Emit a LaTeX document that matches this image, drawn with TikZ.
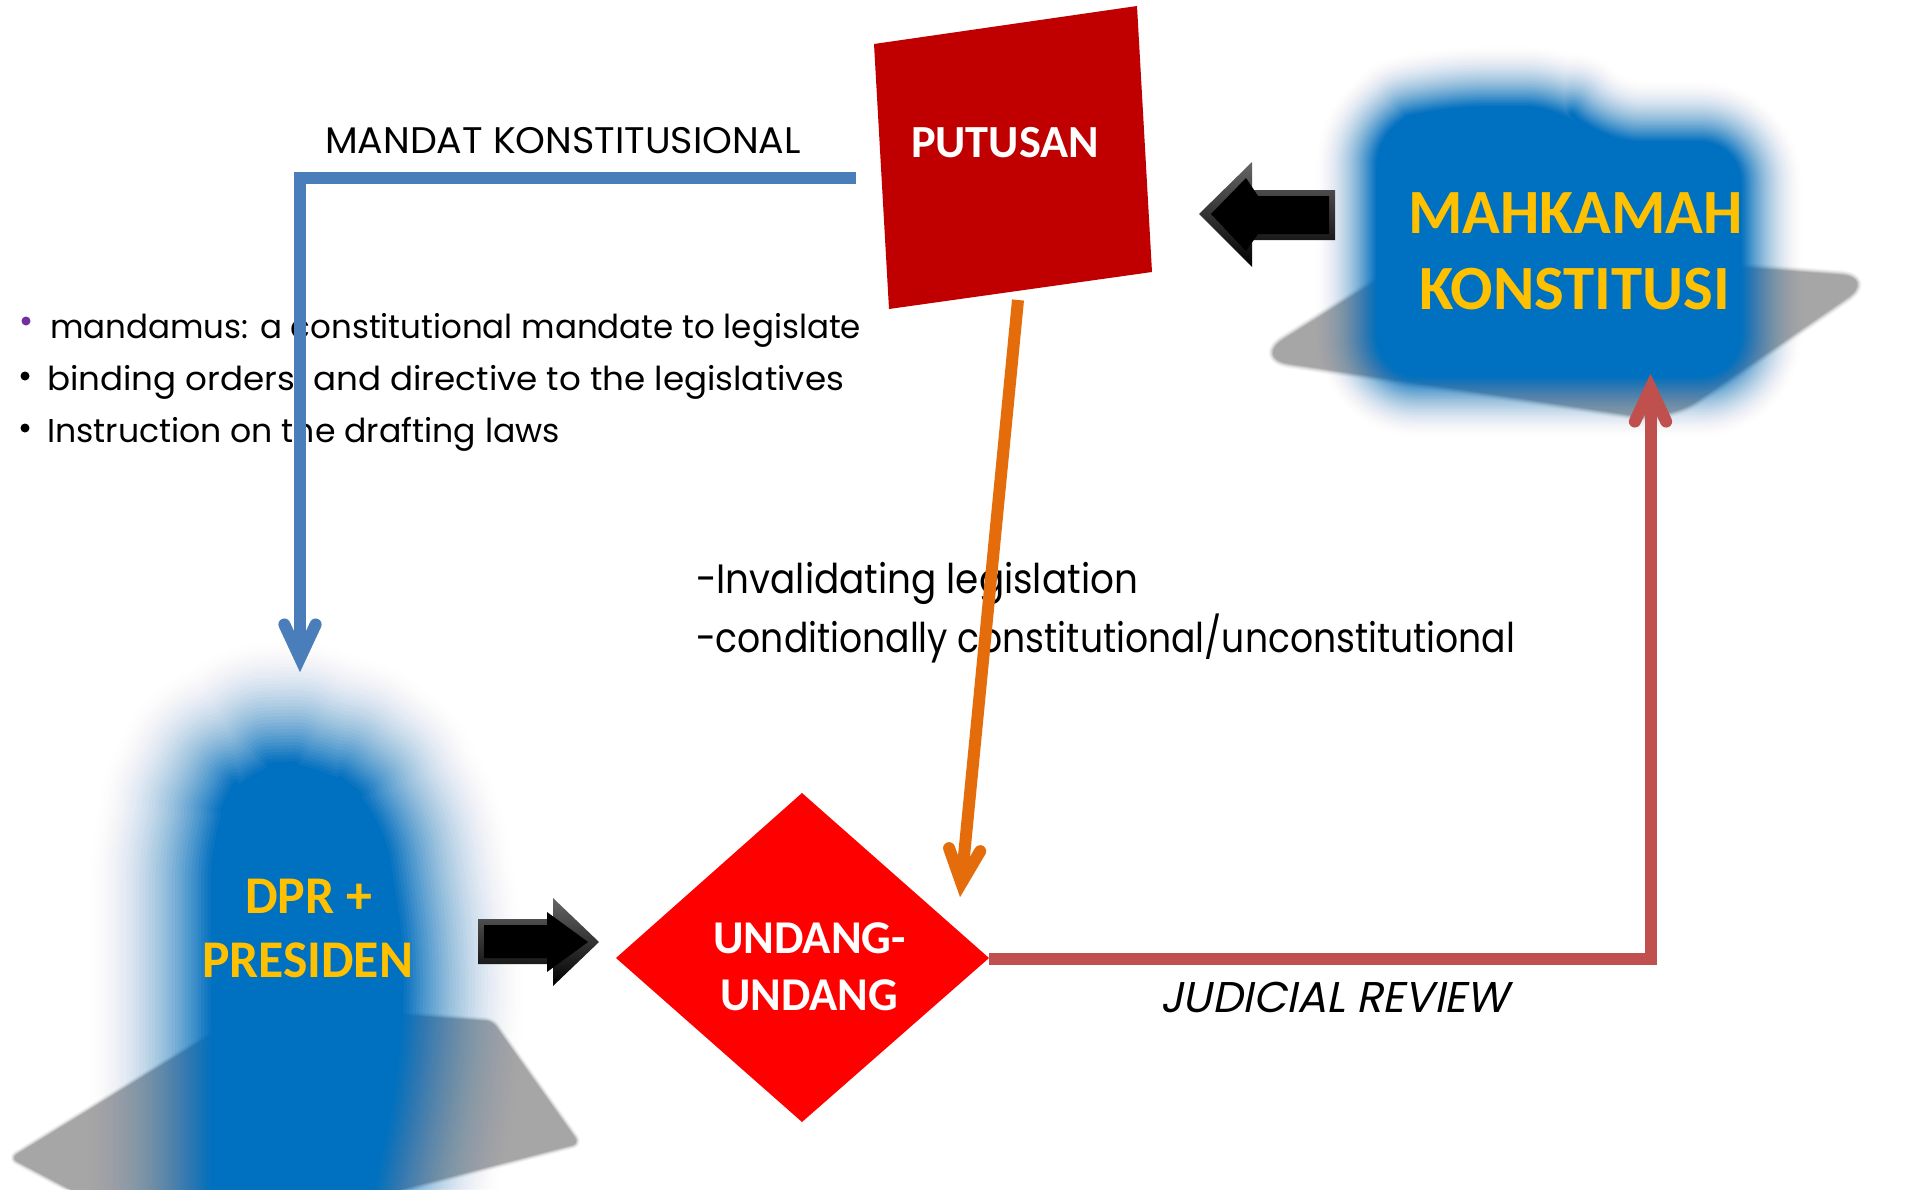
\documentclass[tikz,border=0pt]{standalone}
\usepackage{fontspec}
\usepackage{graphicx}
\usetikzlibrary{calc}
\newfontfamily\popf{Poppins}
\newfontfamily\popsl{Poppins}[FakeSlant=0.2]
\newfontfamily\carf{Carlito}
\definecolor{blobblue}{HTML}{0070C0}
\definecolor{grayc}{HTML}{A6A6A6}
\definecolor{putred}{HTML}{C00000}
\definecolor{uured}{HTML}{FF0000}
\definecolor{gold}{HTML}{FFC000}
\definecolor{linkblue}{HTML}{4A7EBB}
\definecolor{linkorange}{HTML}{E46C0A}
\definecolor{linkred}{HTML}{C0504D}
\definecolor{bulpurple}{HTML}{7030A0}
\newsavebox\fitbox
\newcommand\fitx[2]{\sbox\fitbox{#2}\pgfmathsetmacro\fitfac{#1/\the\wd\fitbox}\scalebox{\fitfac}[1]{\usebox\fitbox}}
% soft-edged shape: solid core, fade of width #2 outside it (opacity ~ t^2)
\newcommand\softshape[3]{%
  \foreach \i in {1,...,40}{%
    \pgfmathsetmacro\sst{\i/40}%
    \pgfmathsetmacro\ssu{(\i-1)/40}%
    \pgfmathsetmacro\ssp{\sst*\sst}%
    \pgfmathsetmacro\ssq{\ssu*\ssu}%
    \pgfmathsetmacro\ssop{min(1,(\ssp-\ssq)/(1-\ssq))}%
    \pgfmathsetmacro\sslw{2*#2*(1-\ssu)}%
    \draw[#1, line width=\sslw pt, draw opacity=\ssop, line join=round] #3;%
  }%
  \fill[#1] #3;%
}
\newcommand\vhead[3]{%
  \draw[#1, line cap=round, line join=miter] ($(#2)!37pt!25:(#3)$) -- (#2) -- ($(#2)!37pt!-25:(#3)$);}
\tikzset{
  lbl/.style={anchor=base west, inner sep=0pt, outer sep=0pt},
  bluec/.style={draw=linkblue, line width=12pt, line join=miter},
  orangec/.style={draw=linkorange, line width=12pt, line join=miter},
  redc/.style={draw=linkred, line width=12pt, line join=miter},
  bul/.style={circle, inner sep=0pt, minimum size=9pt},
}
\begin{document}
\begin{tikzpicture}[x=1pt,y=-1pt]
\fill[white] (0,0) rectangle (1917,1189);
\useasboundingbox (0,0) rectangle (1917,1189);

% grey bases
\softshape{grayc, rounded corners=35pt}{6}{(1255,358) -- (1435,245) -- (1875,278) -- (1668,420) -- cycle}
\softshape{grayc, rounded corners=6pt}{5}{(12,1158) -- (261,1005) -- (492,1022) -- (578,1143) -- (300,1215) -- (120,1215) -- cycle}

% blurred blue blobs
\softshape{blobblue, rounded corners=40pt}{65}{(1378,125) -- (1445,108) -- (1565,108) -- (1600,143) -- (1740,143) -- (1740,375) -- (1378,375) -- cycle}
\softshape{blobblue, rounded corners=50pt}{130}{(214,1290) -- (214,830) -- (245,766) -- (320,764) -- (379,810) -- (403,960) -- (395,1080) -- (350,1290) -- cycle}

% black block arrows
\shade[top color=black!60, bottom color=black] (1199,214) -- (1252,162) -- (1252,190) -- (1335,190) -- (1335,240) -- (1252,240) -- (1252,267) -- cycle;
\fill[black] (1211,214) -- (1246,178) -- (1258,196) -- (1329,196) -- (1329,234) -- (1258,234) -- (1246,251) -- cycle;
\shade[top color=black!60, bottom color=black] (478,919) -- (553,919) -- (553,898) -- (599,942) -- (553,986) -- (553,964) -- (478,964) -- cycle;
\fill[black] (484,925) -- (547,925) -- (547,912) -- (588,942) -- (547,972) -- (547,958) -- (484,958) -- cycle;

% PUTUSAN square and UNDANG-UNDANG diamond
\fill[putred] (874,44) -- (1137,6) -- (1152,272) -- (889,309) -- cycle;
\fill[uured] (616,958) -- (802,793) -- (989,958) -- (802,1122) -- cycle;

% texts
\node[lbl] (mandat) at (325,153) {\fitx{476}{\fontsize{37}{40}\popf MANDAT KONSTITUSIONAL}};
\node[bul, fill=bulpurple] (b1) at (26,321) {};
\node[bul, fill=black] (b2) at (25,376) {};
\node[bul, fill=black] (b3) at (25,428) {};
\node[lbl] (l1) at (50,338) {\fitx{811}{\fontsize{33}{38}\popf mandamus: a constitutional mandate to legislate}};
\node[lbl] (l2) at (47,390) {\fitx{797}{\fontsize{33}{38}\popf binding orders~ and directive to the legislatives}};
\node[lbl] (l3) at (47,442) {\fitx{513}{\fontsize{33}{38}\popf Instruction on the drafting laws}};
\node[lbl] (inv1) at (696,593) {\fitx{442}{\fontsize{41}{46}\popf -Invalidating legislation}};
\node[lbl] (inv2) at (696,652) {\fitx{819}{\fontsize{41}{46}\popf -conditionally constitutional/unconstitutional}};
\node[lbl] (jr) at (1160,1012) {\fitx{349}{\fontsize{43}{48}\popsl JUDICIAL REVIEW}};

\node[lbl, text=white] (putusan) at (911,157) {\fitx{188}{\fontsize{46}{50}\carf\bfseries PUTUSAN}};
\node[lbl, text=gold] (mah) at (1408,233) {\fitx{335}{\fontsize{63}{66}\carf\bfseries MAHKAMAH}};
\node[lbl, text=gold] (kon) at (1419,309) {\fitx{311}{\fontsize{63}{66}\carf\bfseries KONSTITUSI}};
\node[lbl, text=gold] (dpr) at (245,913) {\fitx{127}{\fontsize{53}{56}\carf\bfseries DPR +}};
\node[lbl, text=gold] (pres) at (202,977) {\fitx{211}{\fontsize{53}{56}\carf\bfseries PRESIDEN}};
\node[lbl, text=white] (ud1) at (713,953) {\fitx{193}{\fontsize{47}{50}\carf\bfseries UNDANG-}};
\node[lbl, text=white] (ud2) at (720,1010) {\fitx{178}{\fontsize{47}{50}\carf\bfseries UNDANG}};

% connectors
\coordinate (bA) at (856,178);
\coordinate (bC) at (300,178);
\coordinate (bV) at (300,658);
\draw[bluec] (bA) -- (bC) -- (bV);
\vhead{bluec}{bV}{bC}

\coordinate (oA) at (1018,300);
\coordinate (oV) at (961.4,883);
\draw[orangec] (oA) -- (oV);
\vhead{orangec}{oV}{oA}

\coordinate (rA) at (989,958.5);
\coordinate (rC) at (1650.5,958.5);
\coordinate (rV) at (1650.5,388);
\draw[redc] (rA) -- (rC) -- (rV);
\vhead{redc}{rV}{rC}
\end{tikzpicture}
\end{document}
